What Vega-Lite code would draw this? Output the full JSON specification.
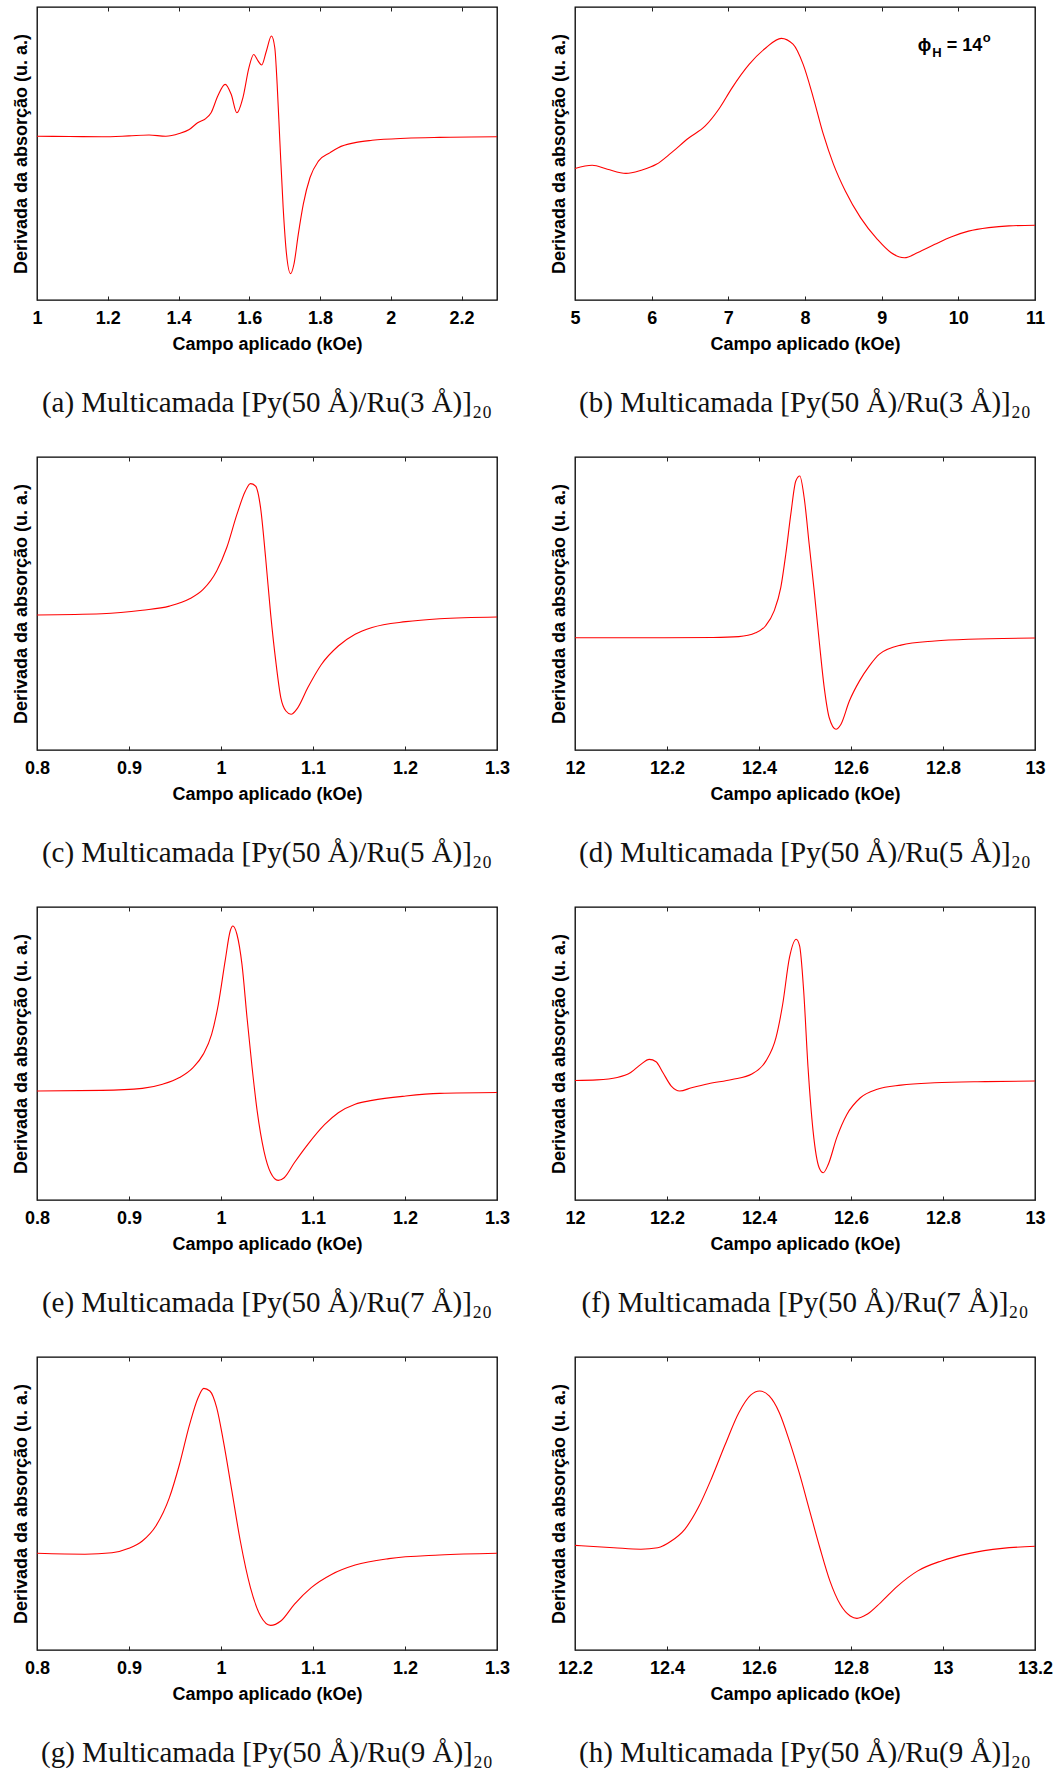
{
  "$schema": "https://vega.github.io/schema/vega-lite/v6.json",
  "background": "white",
  "padding": {"left": 11, "top": 5, "right": 5, "bottom": 5},
  "columns": 2,
  "spacing": {"row": 157, "column": 78},
  "bounds": "flush",
  "config": {
    "view": {"stroke": "#000", "strokeWidth": 1.3},
    "axis": {"labelFont": "Liberation Sans", "labelFontWeight": "bold", "labelFontSize": 18, "labelColor": "#000", "titleFont": "Liberation Sans", "titleFontWeight": "bold", "titleFontSize": 18, "titleColor": "#000", "grid": false, "domain": false},
    "axisBottom": {"tickSize": -4, "tickColor": "#222", "tickWidth": 1, "labelPadding": 13, "titlePadding": 8, "labelFlush": false, "labelOverlap": false, "labelBound": false},
    "axisTop": {"tickSize": -4, "tickColor": "#222", "tickWidth": 1, "labels": false},
    "axisLeft": {"ticks": false, "labels": false, "titlePadding": 7},
    "title": {"font": "Liberation Serif", "fontSize": 29, "fontWeight": "normal", "color": "#111", "orient": "bottom", "offset": 36, "anchor": "middle", "frame": "group"},
    "line": {"color": "#ff0000", "strokeWidth": 1.1, "interpolate": "monotone"}
  },
  "datasets": {
    "a": [{"H":1.0,"D":55.9},{"H":1.0915,"D":55.8},{"H":1.183,"D":55.7},{"H":1.2597,"D":56.0},{"H":1.3166,"D":56.3},{"H":1.364,"D":55.9},{"H":1.4019,"D":56.8},{"H":1.4303,"D":58.2},{"H":1.454,"D":60.5},{"H":1.4777,"D":62.0},{"H":1.492,"D":63.9},{"H":1.5109,"D":69.6},{"H":1.5318,"D":73.6},{"H":1.5488,"D":70.2},{"H":1.565,"D":63.9},{"H":1.582,"D":69.1},{"H":1.599,"D":79.3},{"H":1.6123,"D":83.8},{"H":1.6246,"D":81.6},{"H":1.635,"D":80.2},{"H":1.6483,"D":85.0},{"H":1.6626,"D":90.1},{"H":1.672,"D":86.1},{"H":1.6787,"D":73.6},{"H":1.6863,"D":54.3},{"H":1.6957,"D":31.5},{"H":1.7052,"D":15.6},{"H":1.7166,"D":9.0},{"H":1.7261,"D":12.2},{"H":1.7384,"D":22.4},{"H":1.7526,"D":32.7},{"H":1.7716,"D":41.8},{"H":1.7953,"D":47.4},{"H":1.8284,"D":50.3},{"H":1.8514,"D":52.0},{"H":1.899,"D":53.7},{"H":1.947,"D":54.5},{"H":2.042,"D":55.2},{"H":2.138,"D":55.5},{"H":2.3,"D":55.7}],
    "b": [{"H":5.0,"D":44.9},{"H":5.2245,"D":46.0},{"H":5.4226,"D":44.6},{"H":5.6647,"D":43.2},{"H":5.8628,"D":44.3},{"H":6.0609,"D":46.3},{"H":6.259,"D":50.3},{"H":6.479,"D":55.2},{"H":6.699,"D":59.4},{"H":6.875,"D":65.1},{"H":7.051,"D":72.5},{"H":7.271,"D":80.4},{"H":7.4916,"D":86.1},{"H":7.69,"D":89.3},{"H":7.8437,"D":87.3},{"H":7.976,"D":80.4},{"H":8.108,"D":69.1},{"H":8.24,"D":56.5},{"H":8.372,"D":46.3},{"H":8.526,"D":37.2},{"H":8.724,"D":28.1},{"H":8.944,"D":20.7},{"H":9.12,"D":16.2},{"H":9.296,"D":14.4},{"H":9.472,"D":16.2},{"H":9.693,"D":19.0},{"H":9.913,"D":21.6},{"H":10.133,"D":23.5},{"H":10.397,"D":24.7},{"H":10.661,"D":25.3},{"H":11.0,"D":25.5}],
    "c": [{"H":0.8,"D":46.1},{"H":0.8705,"D":46.5},{"H":0.9145,"D":47.7},{"H":0.9439,"D":49.1},{"H":0.9659,"D":51.6},{"H":0.9806,"D":54.8},{"H":0.9953,"D":61.1},{"H":1.0063,"D":69.1},{"H":1.0173,"D":80.4},{"H":1.0265,"D":88.4},{"H":1.032,"D":90.9},{"H":1.0375,"D":90.1},{"H":1.043,"D":82.7},{"H":1.0485,"D":65.6},{"H":1.054,"D":46.3},{"H":1.0595,"D":30.4},{"H":1.065,"D":17.9},{"H":1.0706,"D":13.3},{"H":1.0761,"D":12.2},{"H":1.0834,"D":14.4},{"H":1.0944,"D":21.3},{"H":1.1091,"D":29.2},{"H":1.1275,"D":35.5},{"H":1.1458,"D":39.5},{"H":1.1642,"D":41.8},{"H":1.2009,"D":43.8},{"H":1.2376,"D":44.8},{"H":1.3,"D":45.4}],
    "d": [{"H":12.0,"D":38.3},{"H":12.1946,"D":38.3},{"H":12.3,"D":38.4},{"H":12.356,"D":38.7},{"H":12.3927,"D":40.0},{"H":12.4145,"D":42.4},{"H":12.4327,"D":47.4},{"H":12.4473,"D":55.4},{"H":12.4582,"D":66.8},{"H":12.4691,"D":80.4},{"H":12.48,"D":91.8},{"H":12.4887,"D":93.5},{"H":12.4982,"D":86.1},{"H":12.5091,"D":70.2},{"H":12.52,"D":54.3},{"H":12.5309,"D":37.2},{"H":12.5418,"D":21.3},{"H":12.5527,"D":11.0},{"H":12.5673,"D":7.1},{"H":12.5782,"D":8.8},{"H":12.5964,"D":16.7},{"H":12.6182,"D":23.5},{"H":12.64,"D":28.7},{"H":12.6618,"D":32.7},{"H":12.7085,"D":35.8},{"H":12.782,"D":37.2},{"H":12.855,"D":37.8},{"H":13.0,"D":38.2}],
    "e": [{"H":0.8,"D":37.2},{"H":0.8705,"D":37.4},{"H":0.9145,"D":38.1},{"H":0.9365,"D":39.5},{"H":0.9549,"D":41.8},{"H":0.9696,"D":45.2},{"H":0.9806,"D":49.7},{"H":0.9898,"D":56.5},{"H":0.9971,"D":66.8},{"H":1.0045,"D":81.6},{"H":1.01,"D":91.8},{"H":1.0129,"D":93.5},{"H":1.0173,"D":90.7},{"H":1.0228,"D":80.4},{"H":1.0283,"D":62.2},{"H":1.0338,"D":45.2},{"H":1.0393,"D":30.4},{"H":1.0467,"D":16.7},{"H":1.054,"D":9.3},{"H":1.0621,"D":6.7},{"H":1.0687,"D":7.6},{"H":1.0797,"D":12.7},{"H":1.0944,"D":19.0},{"H":1.1128,"D":25.8},{"H":1.1275,"D":29.8},{"H":1.1458,"D":32.7},{"H":1.1642,"D":34.0},{"H":1.2009,"D":35.5},{"H":1.2376,"D":36.4},{"H":1.3,"D":36.7}],
    "f": [{"H":12.0,"D":40.8},{"H":12.0477,"D":41.0},{"H":12.0918,"D":41.8},{"H":12.1211,"D":43.5},{"H":12.1432,"D":46.3},{"H":12.1615,"D":48.0},{"H":12.1762,"D":47.2},{"H":12.191,"D":43.5},{"H":12.2093,"D":38.9},{"H":12.2276,"D":37.2},{"H":12.2533,"D":38.3},{"H":12.29,"D":39.7},{"H":12.3414,"D":41.1},{"H":12.3855,"D":43.1},{"H":12.4148,"D":47.4},{"H":12.4369,"D":55.4},{"H":12.4515,"D":66.8},{"H":12.4662,"D":82.7},{"H":12.4809,"D":89.0},{"H":12.4883,"D":86.7},{"H":12.4971,"D":71.4},{"H":12.5066,"D":45.2},{"H":12.5176,"D":23.5},{"H":12.5308,"D":11.0},{"H":12.5396,"D":9.3},{"H":12.5507,"D":12.2},{"H":12.569,"D":21.3},{"H":12.591,"D":29.2},{"H":12.6204,"D":34.9},{"H":12.6571,"D":37.8},{"H":12.7085,"D":39.2},{"H":12.782,"D":40.0},{"H":12.892,"D":40.4},{"H":13.0,"D":40.6}],
    "g": [{"H":0.8,"D":33.0},{"H":0.8521,"D":32.7},{"H":0.8815,"D":33.2},{"H":0.8999,"D":34.7},{"H":0.9145,"D":37.2},{"H":0.9292,"D":42.3},{"H":0.9439,"D":52.0},{"H":0.9549,"D":63.4},{"H":0.9659,"D":77.0},{"H":0.9751,"D":86.1},{"H":0.9813,"D":89.3},{"H":0.9879,"D":88.4},{"H":0.9953,"D":82.7},{"H":1.0026,"D":71.3},{"H":1.0118,"D":54.3},{"H":1.021,"D":37.2},{"H":1.032,"D":21.3},{"H":1.043,"D":11.6},{"H":1.054,"D":8.4},{"H":1.065,"D":9.9},{"H":1.0797,"D":15.6},{"H":1.0981,"D":21.3},{"H":1.1201,"D":25.8},{"H":1.1458,"D":29.0},{"H":1.1825,"D":31.2},{"H":1.2376,"D":32.4},{"H":1.3,"D":33.0}],
    "h": [{"H":12.2,"D":35.7},{"H":12.2844,"D":34.9},{"H":12.3432,"D":34.4},{"H":12.3799,"D":34.9},{"H":12.4093,"D":37.2},{"H":12.4386,"D":41.2},{"H":12.468,"D":48.6},{"H":12.4974,"D":58.8},{"H":12.5267,"D":70.2},{"H":12.5561,"D":81.0},{"H":12.5818,"D":87.0},{"H":12.6016,"D":88.4},{"H":12.6222,"D":86.7},{"H":12.6442,"D":81.0},{"H":12.6662,"D":71.3},{"H":12.6883,"D":60.0},{"H":12.7103,"D":47.4},{"H":12.7323,"D":34.9},{"H":12.7543,"D":23.5},{"H":12.7764,"D":15.6},{"H":12.7984,"D":11.6},{"H":12.813,"D":10.8},{"H":12.8351,"D":12.2},{"H":12.8645,"D":16.2},{"H":12.9012,"D":21.8},{"H":12.9452,"D":27.0},{"H":12.9966,"D":30.4},{"H":13.0554,"D":32.9},{"H":13.1288,"D":34.7},{"H":13.2,"D":35.4}]
  },
  "concat": [
    {
      "width": 460, "height": 293,
      "title": "(a) Multicamada [Py(50 Å)/Ru(3 Å)]₂₀",
      "data": {"name": "a"},
      "layer": [
        {"mark": "line", "encoding": {
          "x": {"field": "H", "type": "quantitative", "scale": {"domain": [1, 2.3], "nice": false, "zero": false}, "axis": {"orient": "bottom", "values": [1, 1.2, 1.4, 1.6, 1.8, 2, 2.2], "format": "~g", "title": "Campo aplicado (kOe)"}},
          "y": {"field": "D", "type": "quantitative", "scale": {"domain": [0, 100], "nice": false}, "axis": {"title": "Derivada da absorção (u. a.)"}}}},
        {"mark": {"type": "point", "opacity": 0}, "encoding": {
          "x": {"field": "H", "type": "quantitative", "axis": {"orient": "top", "values": [1, 1.2, 1.4, 1.6, 1.8, 2, 2.2], "title": null}}}}
      ],
      "resolve": {"axis": {"x": "independent"}}
    },
    {
      "width": 460, "height": 293,
      "title": "(b) Multicamada [Py(50 Å)/Ru(3 Å)]₂₀",
      "layer": [
        {"data": {"name": "b"}, "mark": "line", "encoding": {
          "x": {"field": "H", "type": "quantitative", "scale": {"domain": [5, 11], "nice": false, "zero": false}, "axis": {"orient": "bottom", "values": [5, 6, 7, 8, 9, 10, 11], "format": "~g", "title": "Campo aplicado (kOe)"}},
          "y": {"field": "D", "type": "quantitative", "scale": {"domain": [0, 100], "nice": false}, "axis": {"title": "Derivada da absorção (u. a.)"}}}},
        {"data": {"name": "b"}, "mark": {"type": "point", "opacity": 0}, "encoding": {
          "x": {"field": "H", "type": "quantitative", "axis": {"orient": "top", "values": [5, 6, 7, 8, 9, 10, 11], "title": null}}}},
        {"data": {"values": [{"H": 9.47, "D": 85, "t": "ϕ"}]}, "mark": {"type": "text", "align": "left", "baseline": "alphabetic", "font": "Liberation Sans", "fontWeight": "bold", "fontSize": 18, "color": "#000"},
          "encoding": {"x": {"field": "H", "type": "quantitative", "axis": null}, "y": {"field": "D", "type": "quantitative"}, "text": {"field": "t"}}},
        {"data": {"values": [{"H": 9.66, "D": 82.9, "t": "H"}]}, "mark": {"type": "text", "align": "left", "baseline": "alphabetic", "font": "Liberation Sans", "fontWeight": "bold", "fontSize": 13, "color": "#000"},
          "encoding": {"x": {"field": "H", "type": "quantitative", "axis": null}, "y": {"field": "D", "type": "quantitative"}, "text": {"field": "t"}}},
        {"data": {"values": [{"H": 9.85, "D": 85, "t": "= 14"}]}, "mark": {"type": "text", "align": "left", "baseline": "alphabetic", "font": "Liberation Sans", "fontWeight": "bold", "fontSize": 18, "color": "#000"},
          "encoding": {"x": {"field": "H", "type": "quantitative", "axis": null}, "y": {"field": "D", "type": "quantitative"}, "text": {"field": "t"}}},
        {"data": {"values": [{"H": 10.32, "D": 88.2, "t": "o"}]}, "mark": {"type": "text", "align": "left", "baseline": "alphabetic", "font": "Liberation Sans", "fontWeight": "bold", "fontSize": 13, "color": "#000"},
          "encoding": {"x": {"field": "H", "type": "quantitative", "axis": null}, "y": {"field": "D", "type": "quantitative"}, "text": {"field": "t"}}}
      ],
      "resolve": {"axis": {"x": "independent"}}
    },
    {
      "width": 460, "height": 293,
      "title": "(c) Multicamada [Py(50 Å)/Ru(5 Å)]₂₀",
      "data": {"name": "c"},
      "layer": [
        {"mark": "line", "encoding": {
          "x": {"field": "H", "type": "quantitative", "scale": {"domain": [0.8, 1.3], "nice": false, "zero": false}, "axis": {"orient": "bottom", "values": [0.8, 0.9, 1, 1.1, 1.2, 1.3], "format": "~g", "title": "Campo aplicado (kOe)"}},
          "y": {"field": "D", "type": "quantitative", "scale": {"domain": [0, 100], "nice": false}, "axis": {"title": "Derivada da absorção (u. a.)"}}}},
        {"mark": {"type": "point", "opacity": 0}, "encoding": {
          "x": {"field": "H", "type": "quantitative", "axis": {"orient": "top", "values": [0.8, 0.9, 1, 1.1, 1.2, 1.3], "title": null}}}}
      ],
      "resolve": {"axis": {"x": "independent"}}
    },
    {
      "width": 460, "height": 293,
      "title": "(d) Multicamada [Py(50 Å)/Ru(5 Å)]₂₀",
      "data": {"name": "d"},
      "layer": [
        {"mark": "line", "encoding": {
          "x": {"field": "H", "type": "quantitative", "scale": {"domain": [12, 13], "nice": false, "zero": false}, "axis": {"orient": "bottom", "values": [12, 12.2, 12.4, 12.6, 12.8, 13], "format": "~g", "title": "Campo aplicado (kOe)"}},
          "y": {"field": "D", "type": "quantitative", "scale": {"domain": [0, 100], "nice": false}, "axis": {"title": "Derivada da absorção (u. a.)"}}}},
        {"mark": {"type": "point", "opacity": 0}, "encoding": {
          "x": {"field": "H", "type": "quantitative", "axis": {"orient": "top", "values": [12, 12.2, 12.4, 12.6, 12.8, 13], "title": null}}}}
      ],
      "resolve": {"axis": {"x": "independent"}}
    },
    {
      "width": 460, "height": 293,
      "title": "(e) Multicamada [Py(50 Å)/Ru(7 Å)]₂₀",
      "data": {"name": "e"},
      "layer": [
        {"mark": "line", "encoding": {
          "x": {"field": "H", "type": "quantitative", "scale": {"domain": [0.8, 1.3], "nice": false, "zero": false}, "axis": {"orient": "bottom", "values": [0.8, 0.9, 1, 1.1, 1.2, 1.3], "format": "~g", "title": "Campo aplicado (kOe)"}},
          "y": {"field": "D", "type": "quantitative", "scale": {"domain": [0, 100], "nice": false}, "axis": {"title": "Derivada da absorção (u. a.)"}}}},
        {"mark": {"type": "point", "opacity": 0}, "encoding": {
          "x": {"field": "H", "type": "quantitative", "axis": {"orient": "top", "values": [0.8, 0.9, 1, 1.1, 1.2, 1.3], "title": null}}}}
      ],
      "resolve": {"axis": {"x": "independent"}}
    },
    {
      "width": 460, "height": 293,
      "title": "(f) Multicamada [Py(50 Å)/Ru(7 Å)]₂₀",
      "data": {"name": "f"},
      "layer": [
        {"mark": "line", "encoding": {
          "x": {"field": "H", "type": "quantitative", "scale": {"domain": [12, 13], "nice": false, "zero": false}, "axis": {"orient": "bottom", "values": [12, 12.2, 12.4, 12.6, 12.8, 13], "format": "~g", "title": "Campo aplicado (kOe)"}},
          "y": {"field": "D", "type": "quantitative", "scale": {"domain": [0, 100], "nice": false}, "axis": {"title": "Derivada da absorção (u. a.)"}}}},
        {"mark": {"type": "point", "opacity": 0}, "encoding": {
          "x": {"field": "H", "type": "quantitative", "axis": {"orient": "top", "values": [12, 12.2, 12.4, 12.6, 12.8, 13], "title": null}}}}
      ],
      "resolve": {"axis": {"x": "independent"}}
    },
    {
      "width": 460, "height": 293,
      "title": "(g) Multicamada [Py(50 Å)/Ru(9 Å)]₂₀",
      "data": {"name": "g"},
      "layer": [
        {"mark": "line", "encoding": {
          "x": {"field": "H", "type": "quantitative", "scale": {"domain": [0.8, 1.3], "nice": false, "zero": false}, "axis": {"orient": "bottom", "values": [0.8, 0.9, 1, 1.1, 1.2, 1.3], "format": "~g", "title": "Campo aplicado (kOe)"}},
          "y": {"field": "D", "type": "quantitative", "scale": {"domain": [0, 100], "nice": false}, "axis": {"title": "Derivada da absorção (u. a.)"}}}},
        {"mark": {"type": "point", "opacity": 0}, "encoding": {
          "x": {"field": "H", "type": "quantitative", "axis": {"orient": "top", "values": [0.8, 0.9, 1, 1.1, 1.2, 1.3], "title": null}}}}
      ],
      "resolve": {"axis": {"x": "independent"}}
    },
    {
      "width": 460, "height": 293,
      "title": "(h) Multicamada [Py(50 Å)/Ru(9 Å)]₂₀",
      "data": {"name": "h"},
      "layer": [
        {"mark": "line", "encoding": {
          "x": {"field": "H", "type": "quantitative", "scale": {"domain": [12.2, 13.2], "nice": false, "zero": false}, "axis": {"orient": "bottom", "values": [12.2, 12.4, 12.6, 12.8, 13, 13.2], "format": "~g", "title": "Campo aplicado (kOe)"}},
          "y": {"field": "D", "type": "quantitative", "scale": {"domain": [0, 100], "nice": false}, "axis": {"title": "Derivada da absorção (u. a.)"}}}},
        {"mark": {"type": "point", "opacity": 0}, "encoding": {
          "x": {"field": "H", "type": "quantitative", "axis": {"orient": "top", "values": [12.2, 12.4, 12.6, 12.8, 13, 13.2], "title": null}}}}
      ],
      "resolve": {"axis": {"x": "independent"}}
    }
  ]
}
